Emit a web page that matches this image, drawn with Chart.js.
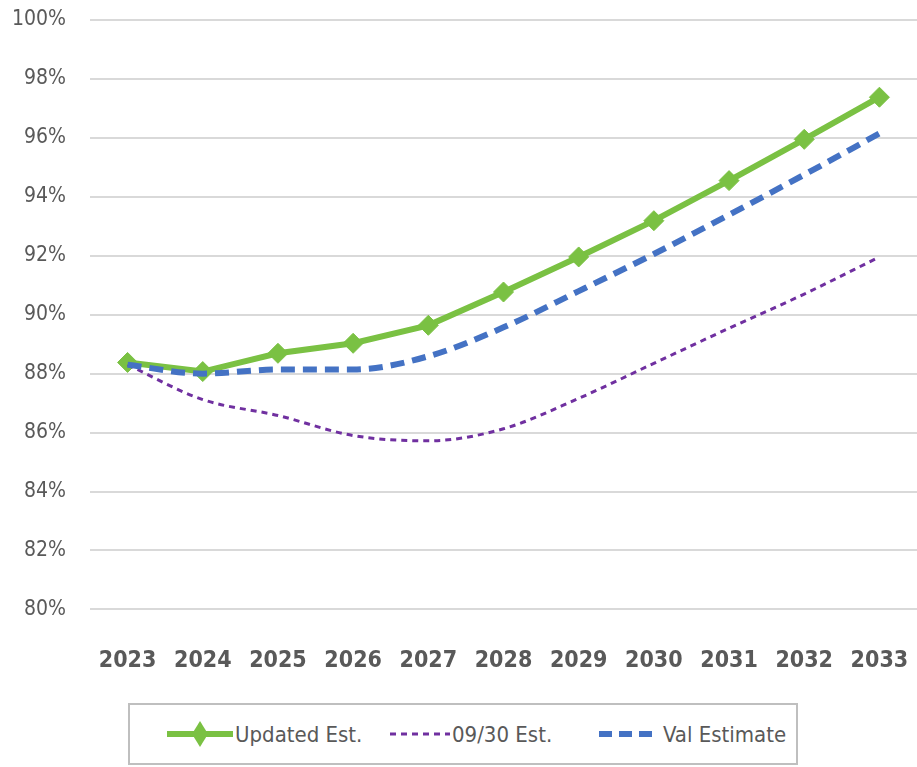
<!DOCTYPE html>
<html>
<head>
<meta charset="utf-8">
<script src="https://cdn.jsdelivr.net/npm/chart.js@4.4.1/dist/chart.umd.min.js"></script>
<style>
  body { margin: 0; background: #fff; width: 917px; height: 767px; overflow: hidden; position: relative; }
  #chart { position: absolute; left: 0; top: 0; }
  #legend {
    position: absolute; left: 128px; top: 703px; width: 670px; height: 62px;
    border: 2px solid #bfbfbf; box-sizing: border-box; background: #fff;
    font-family: "DejaVu Sans Condensed", Roboto, sans-serif;
    font-size: 22px; color: #595959; white-space: nowrap;
  }
  .item { position: absolute; top: 0; height: 58px; display: flex; align-items: center; }
</style>
</head>
<body>
<canvas id="chart" width="917" height="713"></canvas>
<div id="legend">
  <div class="item" style="left:35px">
    <svg width="70" height="30"><line x1="2" y1="15" x2="68" y2="15" stroke="#7ac143" stroke-width="6"/><polygon points="35,2 43,15 35,28 27,15" fill="#7ac143"/></svg>
    <span>Updated Est.</span>
  </div>
  <div class="item" style="left:258px">
    <svg width="64" height="30"><line x1="2" y1="15" x2="62" y2="15" stroke="#7030a0" stroke-width="3" stroke-dasharray="6,5"/></svg>
    <span>09/30 Est.</span>
  </div>
  <div class="item" style="left:467px">
    <svg width="56" height="30"><line x1="2" y1="15" x2="56" y2="15" stroke="#4472c4" stroke-width="6" stroke-dasharray="13,7"/></svg>
    <span style="margin-left:10px">Val Estimate</span>
  </div>
</div>
<script>
const years = ["2023", "2024", "2025", "2026", "2027", "2028", "2029", "2030", "2031", "2032", "2033"];
const updatedEst = [88.38, 88.07, 88.69, 89.03, 89.64, 90.77, 91.96, 93.19, 94.55, 95.95, 97.38];
const sept30Est = [88.3, 87.12, 86.58, 85.9, 85.72, 86.13, 87.16, 88.35, 89.54, 90.7, 91.96];
const valEstimate = [88.3, 88.0, 88.14, 88.14, 88.59, 89.57, 90.8, 92.06, 93.39, 94.75, 96.15];

const green = "#7ac143";
const purple = "#7030a0";
const blue = "#4472c4";
const fontStack = '"DejaVu Sans Condensed", Roboto, sans-serif';

const chartCanvas = document.querySelector("#chart");

// drop the extra room chart.js keeps for the edge labels
function noEdgePadding(scale) {
  scale.paddingLeft = 0;
  scale.paddingRight = 0;
  scale.paddingTop = 0;
  scale.paddingBottom = 0;
}

new Chart(chartCanvas, {
  type: "line",
  data: {
    labels: years,
    datasets: [
      {
        label: "Val Estimate",
        data: valEstimate,
        borderColor: blue,
        borderWidth: 6,
        borderDash: [14, 8],
        cubicInterpolationMode: "monotone",
        pointRadius: 0,
        fill: false,
      },
      {
        label: "09/30 Est.",
        data: sept30Est,
        borderColor: purple,
        borderWidth: 3,
        borderDash: [6, 5],
        cubicInterpolationMode: "monotone",
        pointRadius: 0,
        fill: false,
      },
      {
        label: "Updated Est.",
        data: updatedEst,
        borderColor: green,
        backgroundColor: green,
        borderWidth: 6,
        tension: 0,
        pointStyle: "rectRot",
        pointRadius: 10,
        pointBorderWidth: 1,
        fill: false,
      },
    ],
  },
  options: {
    responsive: false,
    animation: false,
    layout: { autoPadding: false, padding: { left: 12, right: 0, top: 20, bottom: 0 } },
    plugins: {
      legend: { display: false },
      tooltip: { enabled: false },
    },
    scales: {
      x: {
        offset: true,
        afterFit: noEdgePadding,
        grid: { display: false, drawTicks: false },
        border: { display: false },
        ticks: {
          padding: 38,
          color: "#595959",
          font: { family: fontStack, size: 23, weight: "bold" },
        },
      },
      y: {
        min: 80,
        max: 100,
        afterFit: (scale) => {
          noEdgePadding(scale);
          scale.width = 78;
        },
        grid: { color: "#d9d9d9", lineWidth: 2, drawTicks: false },
        border: { display: false },
        ticks: {
          stepSize: 2,
          padding: 24,
          color: "#595959",
          font: { family: fontStack, size: 21 },
          callback: (value) => value + "%",
        },
      },
    },
  },
});
</script>
</body>
</html>
